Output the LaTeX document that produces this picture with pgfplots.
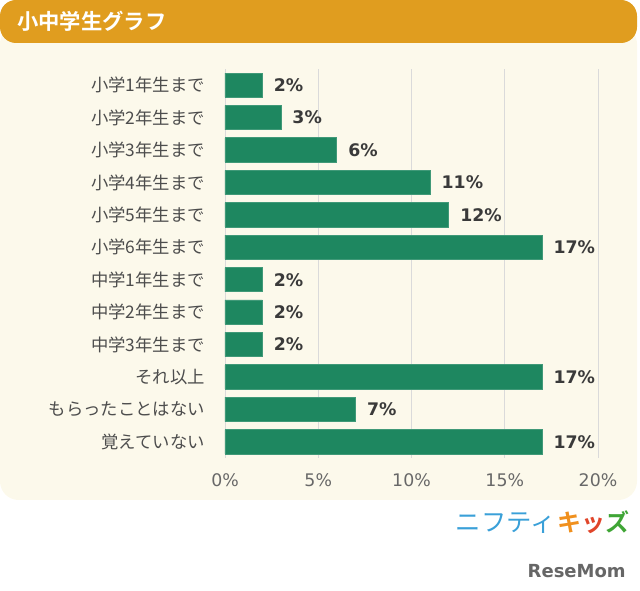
\documentclass[border=0pt]{standalone}
\usepackage{pgfplots}
\pgfplotsset{compat=1.18}
\usepackage{fontspec}
\setmainfont{DejaVu Sans}
\newfontfamily\jp{Noto Sans CJK JP}
\newfontfamily\jpb{Noto Sans CJK JP Bold}
\definecolor{hdr}{HTML}{E09D1F}
\definecolor{cream}{HTML}{FCF9EB}
\definecolor{bargreen}{HTML}{1E8760}
\definecolor{lbl}{HTML}{4D4D4D}
\definecolor{val}{HTML}{3A3A3A}
\definecolor{gridc}{HTML}{DADADA}
\definecolor{nifblue}{HTML}{3AA0D8}
\definecolor{kiorange}{HTML}{F0901E}
\definecolor{kired}{HTML}{E0452A}
\definecolor{kigreen}{HTML}{3FA535}
\begin{document}
\begin{tikzpicture}
\begin{scope}[x=0.75pt,y=-0.75pt,shift={(0pt,442.5pt)}]
\path (0,0) rectangle (640,590);
\fill[cream, rounded corners=14] (0,25) rectangle (637,500);
\fill[hdr, rounded corners=12] (0,0) rectangle (637,43);
\node[anchor=west, text=white, inner sep=0pt] at (17,21) {\jpb\fontsize{16}{18}\selectfont 小中学生グラフ};
\node[anchor=east, inner sep=0pt] at (630,522) {{\jp\fontsize{19}{21}\selectfont\color{nifblue}ニフティ}\,{\jpb\fontsize{18}{20}\selectfont\color{kiorange}キ\color{kired}ッ\color{kigreen}ズ}};
\node[anchor=east, inner sep=0pt, text=black!60] at (626,571) {\bfseries\fontsize{13.5}{15}\selectfont ReseMom};
\end{scope}
\begin{axis}[
  at={(168.75pt,99pt)}, anchor=south west,
  scale only axis, width=279.75pt, height=291.75pt,
  xmin=0, xmax=20, ymin=-0.5, ymax=11.5, y dir=reverse,
  xbar, bar width=0.75,
  axis line style={draw=none},
  major tick length=0pt,
  xmajorgrids, grid style={gridc, line width=0.7pt},
  xtick={0,5,10,15,20},
  xticklabel={\pgfmathprintnumber[assume math mode=true]{\tick}\%},
  xticklabel style={font=\fontsize{13}{15}\selectfont, text=lbl!85, yshift=-8pt},
  ytick={0,...,11},
  yticklabels={小学1年生まで,小学2年生まで,小学3年生まで,小学4年生まで,小学5年生まで,小学6年生まで,中学1年生まで,中学2年生まで,中学3年生まで,それ以上,もらったことはない,覚えていない},
  yticklabel style={font=\jp\fontsize{13}{15}\selectfont, text=lbl, inner sep=0pt, xshift=-15pt},
  point meta=x,
  nodes near coords={\pgfmathprintnumber[assume math mode=true]{\pgfplotspointmeta}\%},
  nodes near coords style={font=\bfseries\fontsize{13}{15}\selectfont, text=val, anchor=west, xshift=5pt},
]
\addplot[fill=bargreen, draw=bargreen!85!white, line width=0.6pt] coordinates {(2,0) (3,1) (6,2) (11,3) (12,4) (17,5) (2,6) (2,7) (2,8) (17,9) (7,10) (17,11)};
\end{axis}
\end{tikzpicture}
\end{document}
